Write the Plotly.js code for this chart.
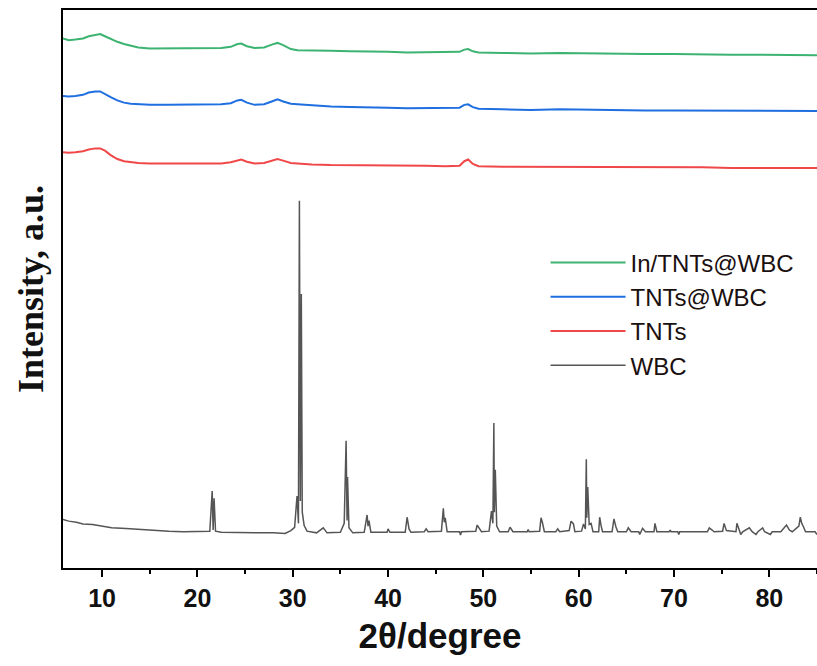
<!DOCTYPE html>
<html>
<head>
<meta charset="utf-8">
<script src="https://cdn.plot.ly/plotly-3.0.1.min.js"></script>
<style>html,body{margin:0;padding:0;background:#fff;}#chart{width:817px;height:666px;}</style>
</head>
<body>
<div id="chart"></div>
<script>
// WBC pattern (2θ, intensity in arbitrary units)
var wbcX = [5.9,6.5,7.3,8.0,9.0,10.0,11.0,12.5,14.0,15.5,17.0,18.5,20.0,21.3,21.55,21.65,21.75,21.9,22.5,24,26,28,29.2,29.8,30.2,30.45,30.6,30.7,30.8,30.9,31.0,31.2,31.5,32.5,33.2,33.6,35.0,35.4,35.6,35.7,35.75,35.9,36.3,37.5,37.8,37.9,38.0,38.2,39.9,40.0,40.2,41.8,42.0,42.2,42.4,43.8,44.0,44.2,45.6,45.8,45.9,46.0,46.2,47.5,47.6,47.7,49.2,49.35,49.6,49.8,50.6,50.85,51.0,51.1,51.15,51.25,51.4,51.7,52.6,52.8,53.1,54.6,54.7,54.8,55.9,56.05,56.2,56.4,57.6,57.8,58.0,59.0,59.2,59.45,59.6,60.3,60.5,60.7,60.8,60.85,60.95,61.1,61.3,61.5,62.1,62.2,62.35,62.5,63.5,63.7,63.9,64.1,65.0,65.2,65.5,66.3,66.4,66.5,66.7,67.0,67.9,68.0,68.2,69.5,69.6,69.7,70.4,70.5,70.6,73.5,73.7,74.0,74.2,75.1,75.25,75.5,76.5,76.6,76.8,77.0,77.2,77.9,78.2,78.6,78.8,79.3,79.5,80.1,80.3,81.2,81.8,82.1,82.4,83.1,83.25,83.4,83.6,83.8,84.8,85.0];
var wbcY = [8.7,8.4,8.2,7.9,7.8,7.5,7.2,7.1,6.9,6.7,6.6,6.5,6.5,6.6,13.8,6.8,12.5,6.6,6.4,6.3,6.3,6.3,6.2,6.7,7.3,12.9,8.0,65.8,12.0,49.1,10.0,7.6,6.6,6.3,7.2,6.3,6.4,8.0,22.8,8.5,16.3,7.2,6.3,6.4,9.5,7.5,8.5,6.4,6.4,7.0,6.4,6.4,9.1,7.0,6.4,6.5,7.0,6.5,6.6,10.7,8.2,9.0,6.5,6.5,5.9,6.5,6.6,7.7,7.1,6.5,6.6,10.2,8.0,26.0,10.0,17.6,7.5,6.5,6.5,7.3,6.5,6.5,6.9,6.5,6.6,9.0,8.1,6.5,6.5,7.0,6.5,6.7,8.4,7.9,6.5,6.6,7.9,7.0,19.5,9.0,14.5,7.8,8.0,6.5,6.5,9.1,7.6,6.5,6.5,8.8,7.4,6.5,6.5,7.2,6.5,6.5,6.0,6.5,7.1,6.5,6.5,8.0,6.5,6.5,6.8,6.5,6.5,6.0,6.5,6.5,7.2,6.8,6.5,6.6,8.0,6.7,6.5,8.0,6.9,6.0,6.5,7.2,6.5,6.0,6.5,7.2,6.5,6.0,6.5,6.5,7.7,6.8,6.5,7.5,9.1,8.0,7.3,6.5,6.5,6.0];

// Shared 2θ grid for the three offset patterns
var topX = [5.9,6.5,7.2,8.0,8.6,9.3,9.8,10.3,10.9,11.6,12.3,13.0,13.8,15.0,17.0,19.0,21.0,22.5,23.5,24.2,24.6,25.2,26.0,27.0,27.8,28.4,29.0,29.8,30.5,32,34,36,38,40,42,44,46,47.5,48.0,48.4,48.9,49.5,52,55,58,61,64,67,70,73,76,79,82,85];
var tntsY = [74.5,74.4,74.5,74.7,75.0,75.2,75.2,74.8,74.0,73.3,72.9,72.7,72.6,72.5,72.5,72.5,72.4,72.5,72.7,73.1,73.2,72.8,72.5,72.6,73.0,73.3,73.0,72.6,72.5,72.3,72.2,72.2,72.2,72.1,72.1,72.1,72.0,72.1,72.9,73.2,72.4,72.0,71.9,71.9,71.9,71.9,71.8,71.8,71.8,71.8,71.7,71.7,71.7,71.7];
var tntsWbcY = [84.6,84.5,84.6,84.8,85.2,85.4,85.4,85.0,84.4,83.8,83.4,83.2,83.1,83.0,83.0,83.0,83.0,83.1,83.3,83.8,83.9,83.4,83.0,83.1,83.6,84.0,83.6,83.2,83.1,82.9,82.7,82.6,82.6,82.5,82.4,82.4,82.4,82.5,83.0,83.1,82.6,82.3,82.2,82.1,82.2,82.1,82.1,82.0,82.0,82.0,81.9,81.9,81.9,81.9];
var inTntsWbcY = [94.9,94.6,94.7,94.9,95.3,95.6,95.7,95.3,94.8,94.3,93.9,93.6,93.3,93.1,93.1,93.1,93.1,93.2,93.4,93.9,94.0,93.5,93.2,93.3,93.8,94.1,93.7,93.0,92.8,92.7,92.7,92.6,92.6,92.5,92.4,92.4,92.4,92.5,92.9,93.0,92.6,92.4,92.3,92.2,92.3,92.2,92.1,92.1,92.1,92.0,92.0,92.0,91.9,91.9];

var seriesNames = ['In/TNTs@WBC','TNTs@WBC','TNTs','WBC'];
var tickVals = [10,20,30,40,50,60,70,80];
var tickText = ['10','20','30','40','50','60','70','80'];

var traces = [
  {x: topX, y: inTntsWbcY, name: seriesNames[0], mode:'lines', line:{color:'#3cb371', width:2}},
  {x: topX, y: tntsWbcY, name: seriesNames[1], mode:'lines', line:{color:'#1f6fe0', width:2}},
  {x: topX, y: tntsY, name: seriesNames[2], mode:'lines', line:{color:'#f04848', width:2}},
  {x: wbcX, y: wbcY, name: seriesNames[3], mode:'lines', line:{color:'#555555', width:1.5}}
];

var layout = {
  width: 817, height: 666,
  margin: {l:63, r:0, t:10, b:98},
  paper_bgcolor:'#fff', plot_bgcolor:'#fff',
  showlegend: true,
  legend: {x:0.64, y:0.587, xanchor:'left', yanchor:'top', bgcolor:'rgba(0,0,0,0)',
           font:{family:'Liberation Sans, Arial, sans-serif', size:24, color:'#1a1010'},
           itemwidth:75, tracegroupgap:0},
  xaxis: {
    range:[5.9,85], showgrid:false, zeroline:false,
    showline:true, linecolor:'#000', linewidth:2, mirror:true,
    ticks:'outside', ticklen:7, tickwidth:2, tickcolor:'#000',
    tickvals: tickVals, ticktext: tickText,
    minor:{dtick:5, tick0:0, ticks:'outside', ticklen:4, tickwidth:2, tickcolor:'#000', showgrid:false},
    tickfont:{family:'Liberation Sans, Arial, sans-serif', size:25, color:'#111', weight:'bold'},
    title:{text:'2θ/degree', standoff:12, font:{family:'Liberation Sans, Arial, sans-serif', size:35, color:'#111', weight:'bold'}}
  },
  yaxis: {
    range:[0,100], showgrid:false, zeroline:false,
    showline:true, linecolor:'#000', linewidth:2,
    showticklabels:false, ticks:'',
    title:{text:'Intensity, a.u.', standoff:6, font:{family:'Liberation Serif, Times New Roman, serif', size:36, color:'#111', weight:'bold'}}
  }
};

Plotly.newPlot('chart', traces, layout, {displayModeBar:false, staticPlot:true});
</script>
</body>
</html>
